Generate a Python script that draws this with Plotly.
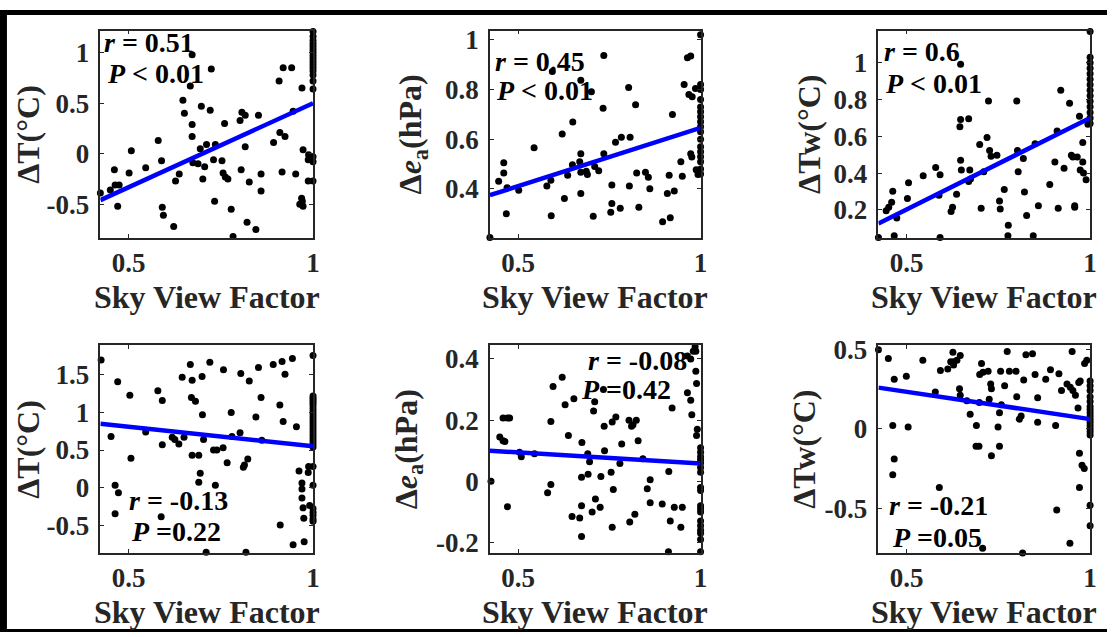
import plotly.graph_objects as go

W, H = 1114, 637
FONT = "Liberation Serif, Times New Roman, serif"
INK = "#262626"

# ---------------- data (Sky View Factor vs. differences) ----------------
# Panel 1: delta T (deg C), row 1
dT1_svf = [0.423, 0.450, 0.461, 0.463, 0.474, 0.470, 0.507, 0.501, 0.546, 0.580,
           0.589, 0.591, 0.594, 0.622, 0.627, 0.637, 0.647, 0.651, 0.667, 0.672,
           0.672, 0.672, 0.674, 0.688, 0.694, 0.697, 0.701, 0.706, 0.711, 0.721,
           0.724, 0.735, 0.733, 0.730, 0.753, 0.756, 0.760, 0.762, 0.769, 0.778,
           0.783, 0.802, 0.807, 0.805, 0.816, 0.816, 0.821, 0.827, 0.845, 0.852,
           0.859, 0.859, 0.893, 0.910, 0.924, 0.916, 0.908, 0.919, 0.942, 0.946,
           0.953, 0.970, 0.973, 0.964, 0.969, 0.973, 0.971, 0.987, 0.988, 0.987]
dT1_val = [-0.39, -0.36, -0.16, -0.31, -0.31, -0.52, 0.03, -0.19, -0.14, 0.13,
           -0.07, -0.53, -0.61, -0.72, -0.27, -0.20, 0.53, 0.40, 0.67, 0.98,
           0.29, 0.17, -0.09, -0.10, 0.05, 0.47, -0.25, -0.13, 0.09, 0.43,
           0.84, 0.09, -0.47, -0.06, -0.07, -0.19, 0.30, -0.23, -0.25, -0.55,
           -0.82, 0.33, 0.41, -0.16, 0.07, 0.38, -0.68, -0.28, -0.75, 0.38,
           -0.20, -0.37, 0.11, 0.21, 0.17, -0.18, 0.72, 0.85, 0.85, 0.42,
           -0.20, 0.65, 0.04, -0.50, -0.44, -0.52, -0.47, -0.06, -0.01, -0.27]
dT1_at_one = [1.21, 1.16, 1.12, 1.09, 1.06, 1.03, 1.00, 0.97, 0.94, 0.91,
              0.88, 0.85, 0.82, 0.78, 0.72, 0.64, -0.03, -0.08, -0.27]

# Panel 2: delta e_a (hPa), row 1
de1_svf = [0.423, 0.447, 0.461, 0.461, 0.468, 0.470, 0.502, 0.544, 0.579, 0.590,
           0.591, 0.594, 0.621, 0.627, 0.636, 0.650, 0.649, 0.669, 0.672, 0.672,
           0.672, 0.672, 0.687, 0.690, 0.701, 0.706, 0.710, 0.721, 0.733, 0.735,
           0.735, 0.757, 0.757, 0.754, 0.767, 0.780, 0.783, 0.803, 0.807, 0.805,
           0.822, 0.825, 0.831, 0.849, 0.857, 0.861, 0.896, 0.909, 0.914, 0.917,
           0.923, 0.928, 0.946, 0.950, 0.955, 0.964, 0.973, 0.968, 0.973, 0.976,
           0.977, 0.986, 0.988, 0.993]
de1_val = [0.205, 0.431, 0.506, 0.464, 0.301, 0.405, 0.395, 0.566, 0.412, 0.435,
           0.292, 0.872, 0.621, 0.362, 0.455, 0.669, 0.497, 0.510, 0.467, 0.542,
           0.382, 0.837, 0.471, 0.458, 0.791, 0.290, 0.490, 0.473, 0.725, 0.542,
           0.937, 0.416, 0.342, 0.307, 0.588, 0.323, 0.608, 0.808, 0.608, 0.412,
           0.739, 0.464, 0.327, 0.467, 0.447, 0.401, 0.268, 0.382, 0.455, 0.284,
           0.699, 0.392, 0.510, 0.451, 0.820, 0.928, 0.935, 0.780, 0.542, 0.529,
           0.771, 0.804, 0.477, 0.458]
de1_at_one = [1.02, 0.82, 0.80, 0.76, 0.73, 0.71, 0.69, 0.67, 0.65, 0.63,
              0.60, 0.57, 0.55, 0.53, 0.51, 0.48, 0.46]

# Panel 3: delta Tw (deg C), row 1
dTw1_svf = [0.423, 0.466, 0.591, 0.776, 0.845, 0.444, 0.451, 0.459, 0.462, 0.473,
            0.502, 0.505, 0.545, 0.579, 0.591, 0.588, 0.621, 0.625, 0.636, 0.645,
            0.647, 0.669, 0.647, 0.647, 0.649, 0.669, 0.672, 0.674, 0.699, 0.710,
            0.719, 0.703, 0.723, 0.726, 0.730, 0.746, 0.753, 0.755, 0.766, 0.777,
            0.800, 0.802, 0.804, 0.818, 0.821, 0.827, 0.850, 0.859, 0.890, 0.904,
            0.910, 0.913, 0.920, 0.929, 0.944, 0.949, 0.953, 0.958, 0.958, 0.965,
            0.973, 0.971, 0.980, 0.980, 0.982, 0.989, 0.994]
dTw1_val = [0.050, 0.060, 0.050, 0.059, 0.059, 0.196, 0.214, 0.241, 0.302, 0.156,
            0.262, 0.347, 0.386, 0.430, 0.391, 0.280, 0.191, 0.214, 0.285, 0.652,
            0.691, 0.695, 0.992, 0.470, 0.417, 0.355, 0.417, 0.368, 0.555, 0.408,
            0.594, 0.209, 0.792, 0.523, 0.492, 0.497, 0.249, 0.205, 0.311, 0.117,
            0.792, 0.523, 0.408, 0.479, 0.297, 0.170, 0.559, 0.223, 0.338, 0.461,
            0.629, 0.209, 0.850, 0.426, 0.780, 0.497, 0.488, 0.223, 0.214, 0.488,
            0.417, 0.709, 0.567, 0.461, 0.400, 0.364, 0.665]
dTw1_at_one = [1.17, 1.03, 1.00, 0.97, 0.94, 0.91, 0.88, 0.85, 0.82, 0.79,
               0.76, 0.73, 0.70, 0.67]

# Panel 4: delta T (deg C), row 2
dT2_svf = [0.425, 0.452, 0.463, 0.472, 0.463, 0.470, 0.503, 0.506, 0.546, 0.579,
           0.591, 0.591, 0.588, 0.618, 0.625, 0.636, 0.650, 0.645, 0.667, 0.672,
           0.670, 0.681, 0.699, 0.672, 0.690, 0.694, 0.690, 0.700, 0.703, 0.720,
           0.710, 0.730, 0.739, 0.735, 0.756, 0.757, 0.767, 0.778, 0.780, 0.802,
           0.804, 0.814, 0.811, 0.823, 0.818, 0.827, 0.845, 0.852, 0.859, 0.861,
           0.892, 0.916, 0.924, 0.910, 0.919, 0.911, 0.944, 0.955, 0.962, 0.970,
           0.970, 0.970, 0.973, 0.975, 0.976, 0.946, 0.988, 0.987, 0.991]
dT2_val = [1.70, 0.68, 0.03, -0.07, -0.35, 1.41, 1.23, 0.39, 0.74, 1.29,
           1.16, 0.57, -0.39, 0.67, 0.64, 0.58, 0.67, 1.47, 1.64, 1.43,
           1.20, 1.15, 1.48, 0.43, 0.43, 0.19, 0.07, 0.97, 0.64, 1.67,
           -0.86, 0.50, 0.50, 0.03, 0.53, 1.57, 0.33, 1.00, 0.68, 0.73,
           1.52, 0.30, 0.27, 0.38, -0.86, 1.42, 0.94, 1.60, 1.20, 0.63,
           1.64, 1.68, 1.51, 1.10, 0.88, -0.50, 1.72, 0.81, 0.22, 0.06,
           -0.02, -0.14, -0.27, -0.41, -0.72, -0.76, 0.28, 0.20, -0.24]
dT2_at_one = [1.76, 1.22, 1.19, 1.16, 1.13, 1.10, 1.06, 1.02, 0.98, 0.94,
              0.90, 0.86, 0.82, 0.78, 0.74, 0.70, 0.66, 0.62, 0.58, 0.54,
              0.28, 0.03, -0.28, -0.33, -0.37, -0.42, -0.45]

# Panel 5: delta e_a (hPa), row 2
de2_svf = [0.426, 0.450, 0.459, 0.464, 0.459, 0.471, 0.477, 0.471, 0.504, 0.509,
           0.545, 0.581, 0.590, 0.590, 0.596, 0.621, 0.629, 0.638, 0.648, 0.669,
           0.653, 0.674, 0.674, 0.674, 0.675, 0.691, 0.696, 0.692, 0.703, 0.712,
           0.707, 0.710, 0.725, 0.727, 0.736, 0.737, 0.734, 0.755, 0.758, 0.761,
           0.758, 0.768, 0.779, 0.784, 0.806, 0.804, 0.811, 0.815, 0.820, 0.824,
           0.829, 0.842, 0.854, 0.862, 0.862, 0.895, 0.912, 0.913, 0.917, 0.922,
           0.928, 0.946, 0.950, 0.964, 0.973, 0.964, 0.973, 0.976, 0.987, 0.989,
           0.985, 0.980, 0.987, 0.991, 0.989]
de2_val = [0.000, 0.145, 0.133, 0.130, 0.207, 0.207, 0.207, -0.083, 0.095, 0.080,
           0.090, -0.037, -0.010, 0.196, 0.310, 0.340, 0.250, 0.150, -0.115, -0.120,
           0.270, -0.180, -0.080, 0.013, 0.127, 0.090, 0.064, 0.023, -0.100, -0.058,
           0.230, 0.260, -0.085, 0.016, 0.180, 0.100, 0.300, 0.030, -0.150, -0.027,
           0.194, 0.210, 0.058, 0.122, -0.133, 0.200, 0.180, 0.185, -0.108, 0.200,
           0.133, 0.074, -0.024, 0.005, -0.070, -0.074, -0.230, 0.032, -0.130, 0.240,
           -0.085, -0.150, -0.085, 0.410, 0.400, 0.290, 0.265, 0.218, 0.360, 0.320,
           0.440, 0.425, 0.425, 0.170, 0.150]
de2_at_one = [-0.23, 0.11, 0.095, 0.08, 0.07, 0.06, 0.045, 0.03, -0.02, -0.03,
              -0.08, -0.09, -0.10, -0.13, -0.145, -0.16, -0.17, -0.19]

# Panel 6: delta Tw (deg C), row 2
dTw2_svf = [0.423, 0.450, 0.462, 0.466, 0.462, 0.466, 0.499, 0.504, 0.544, 0.589,
            0.589, 0.578, 0.592, 0.612, 0.620, 0.626, 0.628, 0.646, 0.628, 0.637,
            0.646, 0.644, 0.673, 0.664, 0.698, 0.690, 0.689, 0.697, 0.704, 0.699,
            0.708, 0.722, 0.707, 0.725, 0.731, 0.729, 0.731, 0.749, 0.753, 0.753,
            0.756, 0.758, 0.767, 0.774, 0.780, 0.798, 0.800, 0.807, 0.812, 0.816,
            0.825, 0.819, 0.843, 0.850, 0.857, 0.857, 0.879, 0.892, 0.906, 0.909,
            0.915, 0.922, 0.945, 0.951, 0.937, 0.946, 0.953, 0.960, 0.967, 0.971,
            0.971, 0.978, 0.984, 0.985, 0.991, 0.969, 0.973]
dTw2_val = [0.495, 0.440, 0.020, -0.190, -0.290, 0.310, 0.330, 0.010, 0.430, 0.530,
            -0.370, 0.230, 0.365, 0.375, 0.420, 0.480, 0.400, 0.460, 0.420, 0.430,
            0.210, 0.250, 0.090, 0.175, 0.165, 0.020, -0.110, -0.110, 0.410, 0.340,
            0.355, 0.360, -0.750, 0.185, -0.170, 0.280, 0.250, 0.010, 0.100, -0.110,
            0.360, 0.150, 0.270, 0.485, 0.360, 0.360, 0.200, 0.060, 0.080, -0.780,
            0.465, 0.305, 0.470, 0.340, 0.195, 0.040, 0.310, 0.370, 0.020, -0.510,
            0.345, 0.240, -0.720, 0.485, 0.280, 0.260, 0.240, 0.210, 0.130, -0.155,
            -0.370, -0.230, -0.250, 0.410, 0.430, 0.290, 0.300]
dTw2_at_one = [0.30, 0.27, 0.24, 0.20, 0.17, 0.14, 0.12, 0.10, 0.08, 0.06,
               0.04, 0.02, 0.00, -0.02, -0.04, -0.48, -0.61]

# Fitted regression lines (endpoints)
fit_svf = [0.423, 1.0]
fit_dT1 = [-0.46, 0.50]
fit_de1 = [0.375, 0.646]
fit_dTw1 = [0.126, 0.70]
fit_dT2 = [0.85, 0.55]
fit_de2 = [0.10, 0.058]
fit_dTw2 = [0.258, 0.060]

# Statistics labels
stats_r = ["0.51", "0.45", "0.6", "-0.13", "-0.08", "-0.21"]
stats_p = ["&lt; 0.01", "&lt; 0.01", "&lt; 0.01", "=0.22", "=0.42", "=0.05"]

# Axis ticks / ranges
x_ticks = [0.5, 1]
x_ticktext = ["0.5", "1"]
x_range = [0.423, 1.0]
y_ticks = [[-0.5, 0, 0.5, 1], [0.4, 0.6, 0.8, 1], [0.2, 0.4, 0.6, 0.8, 1],
           [-0.5, 0, 0.5, 1, 1.5], [-0.2, 0, 0.2, 0.4], [-0.5, 0, 0.5]]
y_ticktext = [["-0.5", "0", "0.5", "1"], ["0.4", "0.6", "0.8", "1"],
              ["0.2", "0.4", "0.6", "0.8", "1"], ["-0.5", "0", "0.5", "1", "1.5"],
              ["-0.2", "0", "0.2", "0.4"], ["-0.5", "0", "0.5"]]
y_ranges = [[-0.83, 1.22], [0.205, 1.037], [0.05, 1.175],
            [-0.87, 1.90], [-0.234, 0.446], [-0.78, 0.526]]
y_titles = ["ΔT(°C)", "Δ<i>e</i><sub>a</sub>(hPa)", "ΔTw(°C)",
            "ΔT(°C)", "Δ<i>e</i><sub>a</sub>(hPa)", "ΔTw(°C)"]
x_title = "Sky View Factor"

panels = [
    (dT1_svf, dT1_val, dT1_at_one, fit_dT1),
    (de1_svf, de1_val, de1_at_one, fit_de1),
    (dTw1_svf, dTw1_val, dTw1_at_one, fit_dTw1),
    (dT2_svf, dT2_val, dT2_at_one, fit_dT2),
    (de2_svf, de2_val, de2_at_one, fit_de2),
    (dTw2_svf, dTw2_val, dTw2_at_one, fit_dTw2),
]

# ---------------- layout geometry (pixels) ----------------
col_px = [(101, 315), (493, 705), (884, 1097)]
row_px = [(21, 233), (343, 556)]
ytitle_x = [28, 415, 814, 28, 411, 809]
stat_r_pos = [(103, 33), (496, 53), (888, 43), (128, 502), (590, 359), (893, 507)]
stat_p_pos = [(106, 65), (497, 82), (889, 75), (130, 534), (583, 389), (896, 540)]


def px_x(v):
    return v / W


def px_y(v):
    return 1 - v / H


fig = go.Figure()
layout = dict(
    width=W, height=H, margin=dict(l=0, r=0, t=0, b=0),
    paper_bgcolor="white", plot_bgcolor="white", showlegend=False,
    font=dict(family=FONT, color=INK),
)
annotations = []

for i, (sx, sy, at_one, fy) in enumerate(panels):
    r, c = divmod(i, 3)
    n = i + 1
    xa = "x" if n == 1 else f"x{n}"
    ya = "y" if n == 1 else f"y{n}"
    xs = list(sx) + [1.0] * len(at_one)
    ys = list(sy) + list(at_one)
    fig.add_trace(go.Scatter(
        x=xs, y=ys, mode="markers", xaxis=xa, yaxis=ya, cliponaxis=False,
        marker=dict(color="black", size=7, line=dict(width=0)),
    ))
    fig.add_trace(go.Scatter(
        x=fit_svf, y=fy, mode="lines", xaxis=xa, yaxis=ya,
        line=dict(color="#0000FF", width=4.5),
    ))
    x0, x1 = col_px[c]
    y0, y1 = row_px[r]
    axis_common = dict(
        showgrid=False, zeroline=False, showline=True, linecolor=INK, linewidth=1.6,
        mirror="ticks", ticks="inside", ticklen=4, tickwidth=1, tickcolor=INK,
        tickfont=dict(family=FONT, size=27, color=INK, weight="bold"),
    )
    layout[f"xaxis{'' if n == 1 else n}"] = dict(
        axis_common, domain=[px_x(x0), px_x(x1)], range=x_range, anchor=ya,
        tickvals=x_ticks, ticktext=x_ticktext, ticklabelstandoff=0,
    )
    layout[f"yaxis{'' if n == 1 else n}"] = dict(
        axis_common, domain=[px_y(y1), px_y(y0)], range=y_ranges[i], anchor=xa,
        tickvals=y_ticks[i], ticktext=y_ticktext[i], ticklabelstandoff=4,
    )
    # x-axis title
    annotations.append(dict(
        text=f"<b>{x_title}</b>", xref="paper", yref="paper",
        x=px_x((x0 + x1) / 2), y=px_y(y1 + 61), xanchor="center", yanchor="middle",
        showarrow=False, font=dict(family=FONT, size=32, color=INK),
    ))
    # y-axis title
    annotations.append(dict(
        text=f"<b>{y_titles[i]}</b>", xref="paper", yref="paper",
        x=px_x(ytitle_x[i]), y=px_y((y0 + y1) / 2), xanchor="center", yanchor="middle",
        textangle=-90, showarrow=False, font=dict(family=FONT, size=32, color=INK),
    ))
    # statistics
    rx, ry = stat_r_pos[i]
    annotations.append(dict(
        text=f"<b><i>r</i> = {stats_r[i]}</b>", xref="paper", yref="paper",
        x=px_x(rx), y=px_y(ry), xanchor="left", yanchor="middle",
        showarrow=False, font=dict(family=FONT, size=28, color="black"),
    ))
    qx, qy = stat_p_pos[i]
    annotations.append(dict(
        text=f"<b><i>P</i> {stats_p[i]}</b>", xref="paper", yref="paper",
        x=px_x(qx), y=px_y(qy), xanchor="left", yanchor="middle",
        showarrow=False, font=dict(family=FONT, size=28, color="black"),
    ))

layout["annotations"] = annotations
layout["shapes"] = [
    dict(type="rect", xref="paper", yref="paper", x0=0, x1=7 / W, y0=0, y1=1,
         fillcolor="black", line=dict(width=0)),
    dict(type="rect", xref="paper", yref="paper", x0=0, x1=1, y0=1 - 5 / H, y1=1,
         fillcolor="black", line=dict(width=0)),
    dict(type="rect", xref="paper", yref="paper", x0=0, x1=1, y0=0, y1=3 / H,
         fillcolor="black", line=dict(width=0)),
]
fig.update_layout(**layout)
fig.write_html("out.html")
